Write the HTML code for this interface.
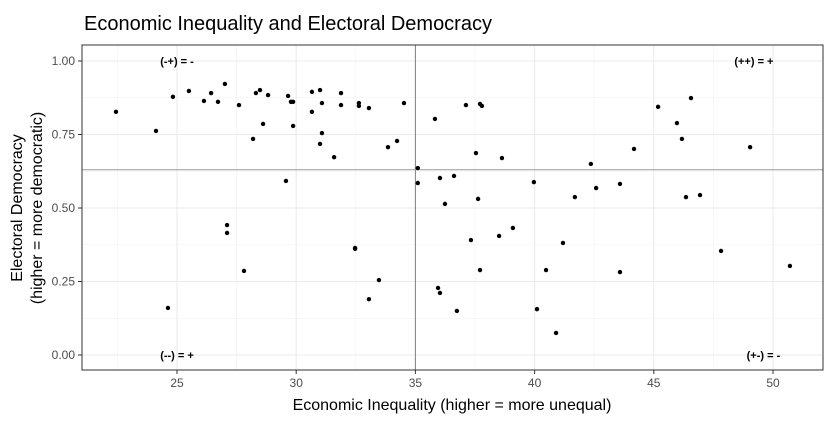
<!DOCTYPE html>
<html><head><meta charset="utf-8"><style>
body{margin:0;background:#fff;}
svg{display:block;font-family:"Liberation Sans",sans-serif;}
</style></head><body>
<svg id="chart" width="836" height="438">
<text x="84" y="30" font-size="20" fill="#000">Economic Inequality and Electoral Democracy</text>
<g id="grid"></g>
<g id="ticks"></g>
<g id="refs"></g>
<g id="pts"></g>
<g id="ann"></g>
<rect x="82" y="45" width="741" height="325" fill="none" stroke="#333" stroke-width="1"/>
<text x="452" y="410" font-size="16" text-anchor="middle">Economic Inequality (higher = more unequal)</text>
<g transform="translate(22,208) rotate(-90)">
<text x="0" y="0" font-size="16" text-anchor="middle">Electoral Democracy</text>
<text x="0" y="20" font-size="16" text-anchor="middle">(higher = more democratic)</text>
</g>
</svg>
<script>
const xs=[22.44,24.12,24.83,25.5,26.13,26.43,26.72,27.01,27.6,28.19,28.31,28.48,28.61,28.82,29.57,29.66,29.78,29.87,29.87,30.66,30.66,31.0,31.08,31.08,31.0,31.59,31.88,31.88,32.63,32.63,33.05,33.85,34.23,34.52,35.1,35.1,27.1,27.1,27.81,24.62,32.47,32.47,33.47,33.05,35.82,37.12,37.71,37.79,37.54,38.63,36.03,36.62,36.24,37.63,39.97,41.69,42.36,42.58,43.58,44.17,45.18,45.97,46.56,46.18,46.35,46.94,49.04,37.33,38.51,39.09,41.19,37.71,40.48,35.95,36.03,36.74,40.1,40.9,43.58,47.82,50.71];
const ys=[0.827,0.762,0.878,0.898,0.864,0.891,0.861,0.922,0.85,0.735,0.891,0.901,0.786,0.884,0.592,0.881,0.861,0.861,0.779,0.895,0.827,0.901,0.857,0.755,0.718,0.673,0.891,0.85,0.857,0.847,0.84,0.707,0.728,0.857,0.636,0.585,0.442,0.415,0.286,0.16,0.364,0.361,0.255,0.19,0.803,0.85,0.854,0.847,0.687,0.67,0.602,0.609,0.514,0.531,0.588,0.537,0.65,0.568,0.582,0.701,0.844,0.789,0.874,0.735,0.537,0.544,0.707,0.391,0.405,0.432,0.381,0.289,0.289,0.228,0.211,0.15,0.156,0.075,0.282,0.354,0.303];
const xTicks=[25,30,35,40,45,50];
const yTicks=[0,0.25,0.5,0.75,1.0];
const yTickLabels=["0.00","0.25","0.50","0.75","1.00"];
const xMinor=[22.5,27.5,32.5,37.5,42.5,47.5,52.5];
const yMinor=[0.125,0.375,0.625,0.875];
const refX=35, refY=0.63;
const annText=["(-+) = -","(++) = +","(--) = +","(+-) = -"];
const annX=[25,49.2,25,49.6];
const annY=[1,1,0,0];
const X=v=>177+(v-25)*23.84;
const Y=v=>355-v*294;
const NS="http://www.w3.org/2000/svg";
function mk(tag,attrs,parent){const e=document.createElementNS(NS,tag);for(const k in attrs)e.setAttribute(k,attrs[k]);parent.appendChild(e);return e;}
const g=document.getElementById('grid'),t=document.getElementById('ticks'),r=document.getElementById('refs'),p=document.getElementById('pts'),a=document.getElementById('ann');
xMinor.forEach(v=>{const x=X(v);if(x<82||x>823)return;const l=mk('line',{x1:x,x2:x,y1:45,y2:370,stroke:'#f2f2f2','stroke-width':0.6},g);

});
yMinor.forEach(v=>{const l=mk('line',{x1:82,x2:823,y1:Y(v),y2:Y(v),stroke:'#f2f2f2','stroke-width':0.6},g);

});
xTicks.forEach(v=>{const x=X(v);const l=mk('line',{x1:x,x2:x,y1:45,y2:370,stroke:'#ebebeb','stroke-width':1.1},g);


mk('line',{x1:x,x2:x,y1:370,y2:374,stroke:'#333'},t);
const tx=mk('text',{x:x,y:387,'font-size':12,fill:'#4d4d4d','text-anchor':'middle'},t);tx.textContent=v;

});
yTicks.forEach((v,i)=>{const y=Y(v);const l=mk('line',{x1:82,x2:823,y1:y,y2:y,stroke:'#ebebeb','stroke-width':1.1},g);


mk('line',{x1:78,x2:82,y1:y,y2:y,stroke:'#333'},t);
const tx=mk('text',{x:75,y:y+4,'font-size':12,fill:'#4d4d4d','text-anchor':'end'},t);tx.textContent=yTickLabels[i];

});
const vl=mk('line',{x1:X(refX),x2:X(refX),y1:45,y2:370,stroke:'#808080','stroke-width':1},r);


const hl=mk('line',{x1:82,x2:823,y1:Y(refY),y2:Y(refY),stroke:'#999','stroke-width':1},r);


xs.forEach((v,i)=>{const c=mk('circle',{cx:X(v),cy:Y(ys[i]),r:2.2,fill:'#000'},p);

});
annText.forEach((s,i)=>{const tx=mk('text',{x:X(annX[i]),y:Y(annY[i])+4,'font-size':11,'font-weight':'bold','text-anchor':'middle'},a);tx.textContent=s;

});
</script>
</body></html>
